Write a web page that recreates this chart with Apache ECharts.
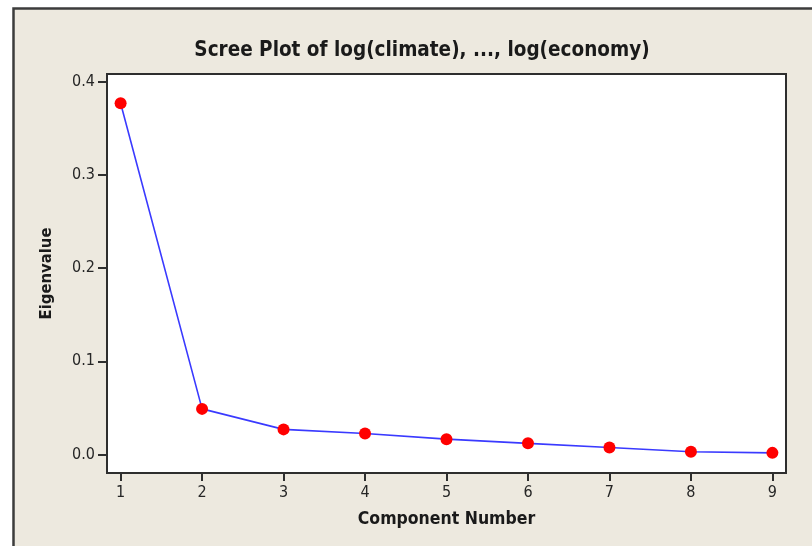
<!DOCTYPE html>
<html>
<head>
<meta charset="utf-8">
<script src="https://cdn.jsdelivr.net/npm/echarts@6/dist/echarts.min.js"></script>
<style>
  html, body { margin: 0; padding: 0; background: #ffffff; }
  #chart { width: 812px; height: 546px; }
</style>
</head>
<body>
<div id="chart"></div>
<script>
// Scree plot: eigenvalue of each principal component
const components = [1, 2, 3, 4, 5, 6, 7, 8, 9];
const eigenvalues = [0.377, 0.049, 0.027, 0.0225, 0.0165, 0.012, 0.0075, 0.003, 0.0018];
const xTicks = [1, 2, 3, 4, 5, 6, 7, 8, 9];
const yTicks = [0, 0.1, 0.2, 0.3, 0.4];

const points = components.map((c, i) => [c, eigenvalues[i]]);

const FONT = '"DejaVu Sans Condensed", "DejaVu Sans", sans-serif';
const chart = echarts.init(document.getElementById('chart'), null, { renderer: 'canvas' });

chart.setOption({
  backgroundColor: '#ffffff',
  animation: false,
  graphic: [{
    type: 'rect',
    z: -10,
    silent: true,
    shape: { x: 13.5, y: 8.5, width: 900, height: 700 },
    style: { fill: '#EDE9DF', stroke: '#3c3c3c', lineWidth: 2.5 }
  }],
  title: {
    text: 'Scree Plot of log(climate), ..., log(economy)',
    left: 417,
    textAlign: 'center',
    top: 35,
    textStyle: { fontFamily: FONT, fontSize: 20.5, fontWeight: 'bold', color: '#1a1a1a' }
  },
  grid: {
    left: 107, top: 74, width: 679, height: 399,
    show: true,
    backgroundColor: '#ffffff',
    borderColor: '#2e2e2e',
    borderWidth: 2
  },
  xAxis: {
    type: 'value',
    min: 0.833,
    max: 9.167,
    name: 'Component Number',
    nameLocation: 'middle',
    nameGap: 37,
    nameTextStyle: { fontFamily: FONT, fontSize: 17.5, fontWeight: 'bold', color: '#1a1a1a' },
    axisLine: { show: false, onZero: false },
    splitLine: { show: false },
    axisTick: { show: true, length: 8, lineStyle: { color: '#2e2e2e', width: 2 }, customValues: xTicks },
    axisLabel: {
      customValues: xTicks,
      margin: 12,
      fontFamily: FONT, fontSize: 16, color: '#262626'
    }
  },
  yAxis: {
    type: 'value',
    min: -0.0198,
    max: 0.4083,
    name: 'Eigenvalue',
    nameLocation: 'middle',
    nameGap: 52,
    nameTextStyle: { fontFamily: FONT, fontSize: 16.5, fontWeight: 'bold', color: '#1a1a1a' },
    axisLine: { show: false, onZero: false },
    splitLine: { show: false },
    axisTick: { show: true, length: 9, lineStyle: { color: '#2e2e2e', width: 2 }, customValues: yTicks },
    axisLabel: {
      customValues: yTicks,
      margin: 12,
      formatter: v => v.toFixed(1),
      fontFamily: FONT, fontSize: 16, color: '#262626'
    }
  },
  series: [{
    type: 'line',
    data: points,
    symbol: 'circle',
    symbolSize: 12,
    itemStyle: { color: '#ff0000' },
    lineStyle: { color: '#3a3aff', width: 1.6 }
  }]
});
</script>
</body>
</html>
